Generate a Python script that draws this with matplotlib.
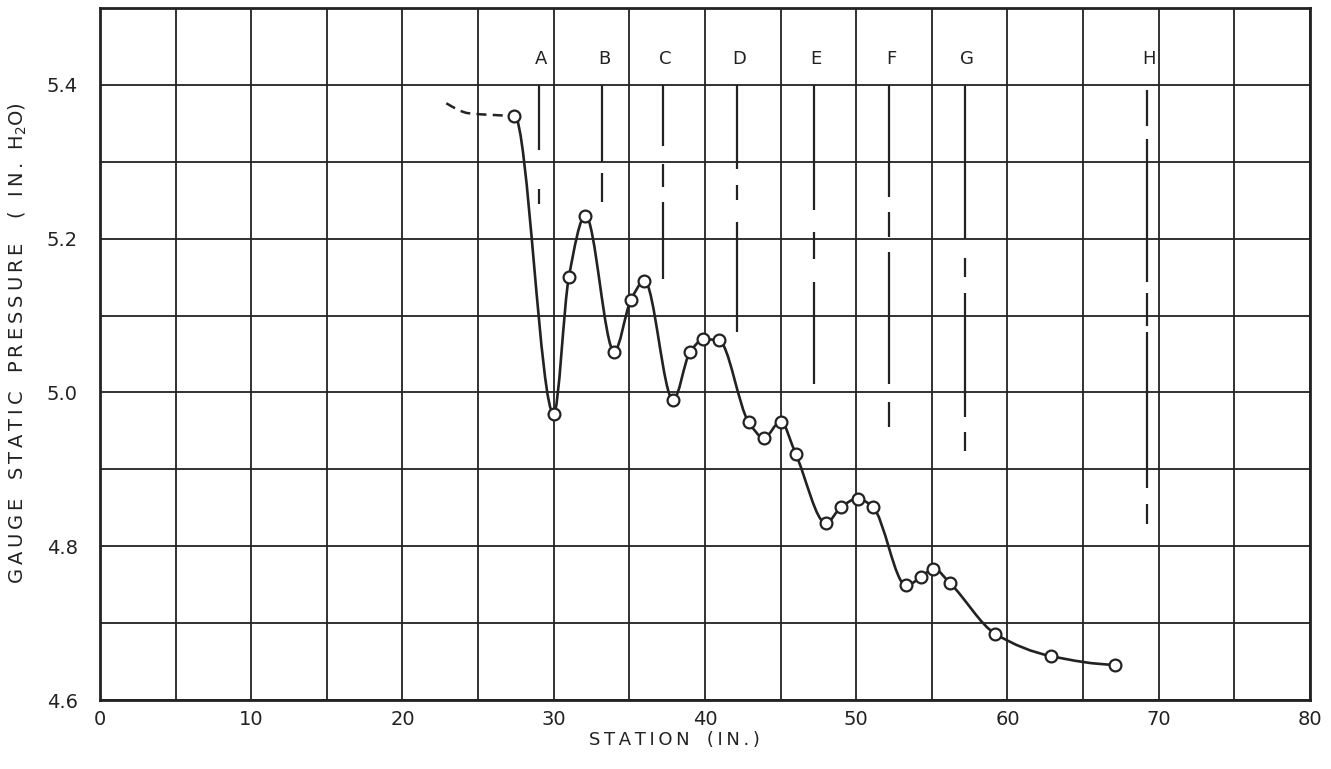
### ------------------------------ Imports ------------------------------ ###

import numpy as np
import matplotlib
matplotlib.use("Agg")
import matplotlib.pyplot as plt
from matplotlib.path import Path
from matplotlib.patches import PathPatch

### ------------------------------ Data ------------------------------ ###

# Measured points (station in inches, gauge static pressure in inches of water)
station = [27.4, 30.0, 31.0, 32.1, 34.0, 35.1, 36.0, 37.9, 39.0, 39.9, 40.9,
           42.9, 43.9, 45.0, 46.0, 48.0, 49.0, 50.1, 51.1, 53.3, 54.3, 55.1,
           56.2, 59.2, 62.9, 67.1]
pressure = [5.36, 4.972, 5.15, 5.23, 5.053, 5.12, 5.145, 4.99, 5.052, 5.069, 5.068,
            4.961, 4.941, 4.962, 4.92, 4.83, 4.851, 4.862, 4.851, 4.749, 4.76, 4.771,
            4.752, 4.686, 4.657, 4.646]

# Dashed (extrapolated) lead-in to the first point
lead_station = [22.9, 24.4, 27.4]
lead_pressure = [5.376, 5.363, 5.36]

# Reference stations A..H, drawn as broken vertical lines
ref_names = ["A", "B", "C", "D", "E", "F", "G", "H"]
ref_station = [29.0, 33.2, 37.2, 42.1, 47.2, 52.2, 57.2, 69.2]
ref_pieces = [
    [(5.40, 5.315), (5.265, 5.245)],
    [(5.40, 5.30), (5.285, 5.247)],
    [(5.40, 5.32), (5.297, 5.267), (5.247, 5.147)],
    [(5.40, 5.29), (5.27, 5.25), (5.222, 5.078)],
    [(5.40, 5.237), (5.209, 5.173), (5.143, 5.011)],
    [(5.40, 5.254), (5.235, 5.202), (5.183, 5.011), (4.987, 4.955)],
    [(5.40, 5.20), (5.175, 5.150), (5.129, 4.968), (4.948, 4.924)],
    [(5.393, 5.347), (5.33, 5.143), (5.129, 5.087), (5.078, 4.876), (4.855, 4.829)],
]

x_ticks = [0, 10, 20, 30, 40, 50, 60, 70, 80]
y_ticks = [4.6, 4.8, 5.0, 5.2, 5.4]

### ------------------------------ Helpers ------------------------------ ###

def spaced(s):
    # Old lettering-guide text is widely spaced; put a thin space between letters
    return "\u2009".join(s)

def pchip_path(x, y, flat_ends=False):
    # Shape-preserving cubic through the points, as Bezier segments for a Path
    x = np.asarray(x, float)
    y = np.asarray(y, float)
    h = np.diff(x)
    d = np.diff(y) / h
    n = len(x)
    m = np.zeros(n)
    for k in range(1, n - 1):
        if d[k - 1] * d[k] > 0:
            w1 = 2 * h[k] + h[k - 1]
            w2 = h[k] + 2 * h[k - 1]
            m[k] = (w1 + w2) / (w1 / d[k - 1] + w2 / d[k])
    if not flat_ends:
        m[0] = ((2 * h[0] + h[1]) * d[0] - h[0] * d[1]) / (h[0] + h[1])
        if np.sign(m[0]) != np.sign(d[0]):
            m[0] = 0
        m[-1] = ((2 * h[-1] + h[-2]) * d[-1] - h[-1] * d[-2]) / (h[-1] + h[-2])
        if np.sign(m[-1]) != np.sign(d[-1]):
            m[-1] = 0
    verts = [(x[0], y[0])]
    codes = [Path.MOVETO]
    for k in range(n - 1):
        verts += [(x[k] + h[k] / 3, y[k] + m[k] * h[k] / 3),
                  (x[k + 1] - h[k] / 3, y[k + 1] - m[k + 1] * h[k] / 3),
                  (x[k + 1], y[k + 1])]
        codes += [Path.CURVE4] * 3
    return Path(verts, codes)

### ------------------------------ Figure ------------------------------ ###

ink = "#222222"

fig = plt.figure(figsize=(13.31, 7.69), dpi=100)
ax = fig.add_axes([0.0751, 0.0897, 0.9091, 0.9000])

ax.set_xlim(0, 80)
ax.set_ylim(4.6, 5.5)

# Grid every 5 in. and every 0.1 in. H2O
ax.set_xticks(x_ticks)
ax.set_xticks(np.arange(0, 81, 5), minor=True)
ax.set_yticks(y_ticks)
ax.set_yticks(np.arange(4.6, 5.51, 0.1), minor=True)
ax.set_xticklabels([str(t) for t in x_ticks], fontsize=14, color=ink)
ax.set_yticklabels(["%.1f" % t for t in y_ticks], fontsize=14, color=ink)
ax.tick_params(which="both", length=0)
ax.tick_params(axis="y", pad=16)
ax.tick_params(axis="x", pad=7)
ax.grid(which="both", color=ink, linewidth=1.3)
ax.set_axisbelow(True)
for s in ax.spines.values():
    s.set_linewidth(2.0)
    s.set_color(ink)

# Station reference lines with letters
for name, xs, pieces in zip(ref_names, ref_station, ref_pieces):
    for top, bot in pieces:
        ax.vlines(xs, bot, top, color=ink, linewidth=1.6, zorder=3)
    ax.text(xs + 0.15, 5.434, name, ha="center", va="center", fontsize=13, color=ink)

# Pressure curve
ax.add_patch(PathPatch(pchip_path(lead_station, lead_pressure), fill=False,
                       edgecolor=ink, linewidth=1.8, linestyle=(0, (4, 2.5)), zorder=4))
ax.add_patch(PathPatch(pchip_path(station, pressure, flat_ends=True), fill=False,
                       edgecolor=ink, linewidth=1.9, zorder=4))
ax.plot(station, pressure, linestyle="none", marker="o", markersize=8.5,
        markerfacecolor="white", markeredgecolor=ink, markeredgewidth=1.6, zorder=5)

ax.set_xlabel(spaced("STATION") + "   " + spaced("(IN.)"), fontsize=13, color=ink)
ax.xaxis.set_label_coords(0.475, -0.045)
ax.set_ylabel(spaced("GAUGE") + "   " + spaced("STATIC") + "   " + spaced("PRESSURE")
              + "    " + spaced("( IN.") + "  H$_2$O)", fontsize=14, color=ink)
ax.yaxis.set_label_coords(-0.059, 0.515)

fig.savefig("out.png", dpi=100)
